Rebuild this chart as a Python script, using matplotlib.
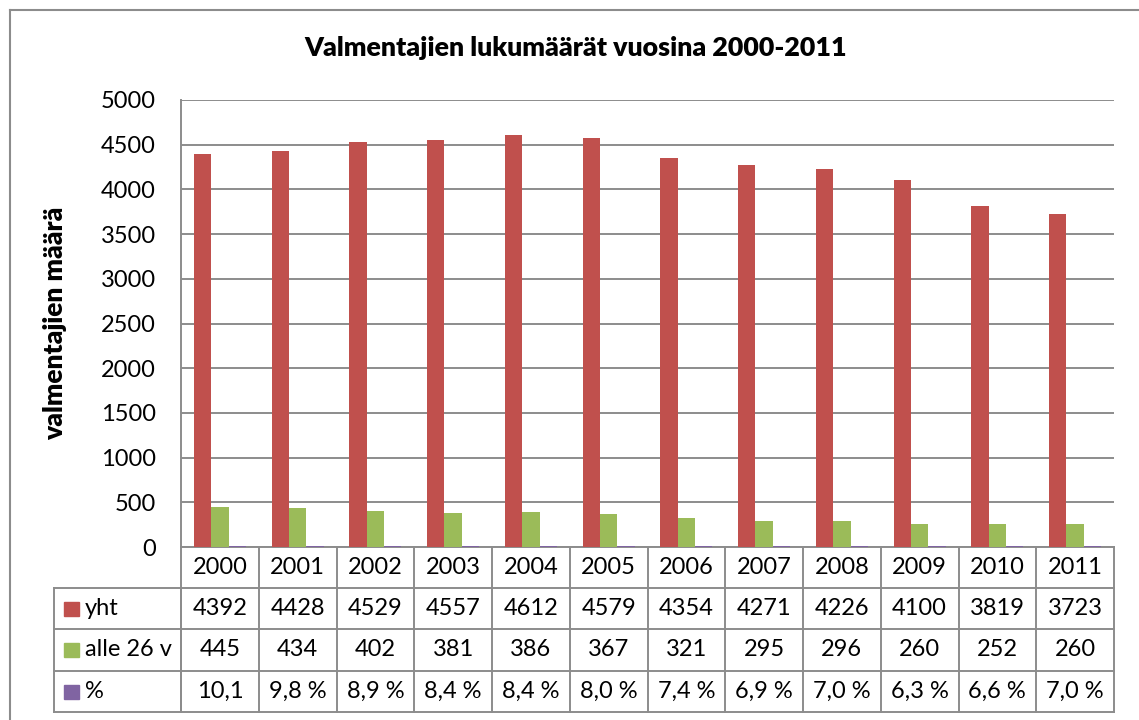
import numpy as np
import matplotlib
matplotlib.use('Agg')
import matplotlib.pyplot as plt
import matplotlib.transforms as mtransforms
from matplotlib.patches import Rectangle

plt.rcParams['font.family'] = ['Lato', 'DejaVu Sans']

years = ['2000', '2001', '2002', '2003', '2004', '2005',
         '2006', '2007', '2008', '2009', '2010', '2011']
yht = [4392, 4428, 4529, 4557, 4612, 4579, 4354, 4271, 4226, 4100, 3819, 3723]
alle26 = [445, 434, 402, 381, 386, 367, 321, 295, 296, 260, 252, 260]
pros = [10.1, 9.8, 8.9, 8.4, 8.4, 8.0, 7.4, 6.9, 7.0, 6.3, 6.6, 7.0]
pros_txt = ['10,1', '9,8 %', '8,9 %', '8,4 %', '8,4 %', '8,0 %',
            '7,4 %', '6,9 %', '7,0 %', '6,3 %', '6,6 %', '7,0 %']

series = [('yht', yht, [str(v) for v in yht], '#C0504D'),
          ('alle 26 v', alle26, [str(v) for v in alle26], '#9BBB59'),
          ('%', pros, pros_txt, '#8064A2')]

W, H = 1139, 720
fs = 17
fig = plt.figure(figsize=(W / 100, H / 100), dpi=100)
ax = fig.add_axes([181 / W, 1 - 547 / H, (1114 - 181) / W, (547 - 100) / H])

x = np.arange(len(years))
bw = 0.223
for i, (name, vals, _, col) in enumerate(series):
    ax.bar(x + (i - 1) * bw, vals, width=bw, color=col, zorder=3)

ax.set_xlim(-0.5, len(years) - 0.5)
ax.set_ylim(0, 5000)
ax.set_yticks(range(0, 5001, 500))
ax.tick_params(axis='y', length=0, labelsize=fs, pad=18)
ax.set_xticks([])
ax.grid(axis='y', color='#8c8c8c', linewidth=1.4, zorder=0)
for s in ['top', 'right']:
    ax.spines[s].set_visible(False)
for s in ['left', 'bottom']:
    ax.spines[s].set_color('#8c8c8c')
    ax.spines[s].set_linewidth(1.4)
ax.set_ylabel('valmentajien määrä', fontsize=19, fontweight='heavy', labelpad=24)
fig.text(576 / W, 1 - 48 / H, 'Valmentajien lukumäärät vuosina 2000-2011',
         ha='center', va='center', fontsize=19.3, fontweight='heavy')

# data table below the axis
tr = mtransforms.blended_transform_factory(ax.transData, ax.transAxes)
ph = 547 - 100
rows = [0, -(588 - 547) / ph, -(629 - 547) / ph, -(671 - 547) / ph, -(712 - 547) / ph]
lab_x = (54 - 181) / (1114 - 181)
lc = '#8c8c8c'
lw = 1.4
kw = dict(color=lc, linewidth=lw, clip_on=False)

for k in range(len(years) + 1):
    ax.plot([k - 0.5, k - 0.5], [rows[0], rows[-1]], transform=tr, **kw)
ax.plot([lab_x, lab_x], [rows[1], rows[-1]], transform=ax.transAxes, **kw)
ax.plot([0, 0], [rows[1], rows[-1]], transform=ax.transAxes, **kw)
for r in rows[1:]:
    ax.plot([lab_x, 1], [r, r], transform=ax.transAxes, **kw)

for j, yr in enumerate(years):
    ax.text(j, (rows[0] + rows[1]) / 2, yr, transform=tr, ha='center', va='center', fontsize=fs)

for i, (name, vals, txt, col) in enumerate(series):
    yc = (rows[i + 1] + rows[i + 2]) / 2
    ax.add_patch(Rectangle((lab_x + 10 / 933, yc - 7 / ph), 15 / 933, 14 / ph,
                           transform=ax.transAxes, color=col, clip_on=False))
    ax.text(lab_x + 31 / 933, yc, name, transform=ax.transAxes, ha='left', va='center', fontsize=fs)
    for j, t in enumerate(txt):
        ax.text(j, yc, t, transform=tr, ha='center', va='center', fontsize=fs)

# chart frame
fig.add_artist(plt.Line2D([9.5 / W, 9.5 / W], [0, 1 - 10 / H], color='#8c8c8c', linewidth=1.5))
fig.add_artist(plt.Line2D([9.5 / W, 1], [1 - 10 / H, 1 - 10 / H], color='#8c8c8c', linewidth=1.5))

fig.savefig('out.png', dpi=100)
